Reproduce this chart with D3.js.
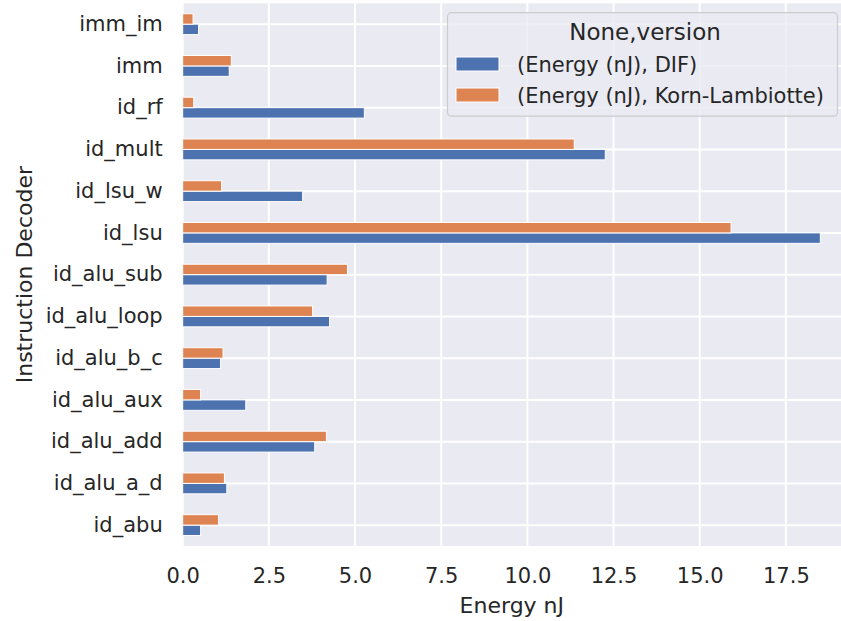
<!DOCTYPE html>
<html><head><meta charset="utf-8">
<script src="https://cdn.jsdelivr.net/npm/d3@7"></script>
<style>body{margin:0;background:#fff}svg{display:block}text{font-family:"DejaVu Sans",sans-serif;fill:#262626}</style>
</head><body>
<script>
const categories = ["id_abu","id_alu_a_d","id_alu_add","id_alu_aux","id_alu_b_c","id_alu_loop","id_alu_sub","id_lsu","id_lsu_w","id_mult","id_rf","imm","imm_im"];
const seriesNames = ["(Energy (nJ), DIF)","(Energy (nJ), Korn-Lambiotte)"];
const difValues = [0.52,1.28,3.83,1.83,1.10,4.26,4.19,18.50,3.48,12.26,5.27,1.35,0.46];
const klValues  = [1.04,1.21,4.17,0.52,1.17,3.77,4.78,15.91,1.13,11.36,0.32,1.41,0.30];
const xTicks = [0,2.5,5,7.5,10,12.5,15,17.5];
const colors = ["#4c72b0","#dd8452"];
const legendTitle = "None,version";
const xLabel = "Energy nJ";
const yLabel = "Instruction Decoder";

const W=841,H=621;
const L=182.7,R=841,T=3.3,B=546;
const svg=d3.select("body").append("svg").attr("width",W).attr("height",H);
const x=d3.scaleLinear().domain([0,19.1]).range([L,R]);
const y=d3.scaleBand().domain(categories.slice().reverse()).range([T,B]).paddingInner(0).paddingOuter(0);
const bw=y.bandwidth();

svg.append("rect").attr("x",L).attr("y",T).attr("width",R-L).attr("height",B-T).attr("fill","#eaeaf2");
// grid
svg.append("g").selectAll("line").data(xTicks).join("line")
  .attr("x1",d=>x(d)).attr("x2",d=>x(d)).attr("y1",T).attr("y2",B).attr("stroke","#fff").attr("stroke-width",2);
svg.append("g").selectAll("line").data(categories).join("line")
  .attr("x1",L).attr("x2",R).attr("y1",d=>y(d)+bw/2).attr("y2",d=>y(d)+bw/2).attr("stroke","#fff").attr("stroke-width",2);

// bars
const series=[difValues,klValues];
const barH=bw*0.25;
series.forEach((vals,si)=>{
  svg.append("g").selectAll("rect").data(categories).join("rect")
    .attr("x",x(0))
    .attr("y",(d)=>y(d)+bw/2 + (si===0?0:-barH))
    .attr("width",(d,i)=>x(vals[i])-x(0))
    .attr("height",barH)
    .attr("fill",colors[si]).attr("stroke","#fff").attr("stroke-width",1);
});

// x axis ticks
const xa=svg.append("g").attr("transform",`translate(0,${B})`)
  .call(d3.axisBottom(x).tickValues(xTicks).tickFormat(d3.format(".1f")).tickSize(0).tickPadding(22));
xa.select(".domain").remove();
xa.selectAll("text").attr("font-size",21).style("fill","#262626").style("font-family","DejaVu Sans");
const ya=svg.append("g").attr("transform",`translate(${L},0)`)
  .call(d3.axisLeft(y).tickSize(0).tickPadding(20));
ya.select(".domain").remove();
ya.selectAll("text").attr("font-size",21).style("fill","#262626").style("font-family","DejaVu Sans");

svg.append("text").attr("x",(L+R)/2).attr("y",613).attr("text-anchor","middle").attr("font-size",22).text(xLabel);
svg.append("text").attr("transform",`translate(32,${(T+B)/2}) rotate(-90)`).attr("text-anchor","middle").attr("font-size",22).text(yLabel);

// legend
const lg=svg.append("g");
lg.append("rect").attr("x",447.5).attr("y",12.7).attr("width",390).attr("height",103.5).attr("rx",4)
  .attr("fill","#eaeaf2").attr("fill-opacity",0.8).attr("stroke","#cccccc").attr("stroke-width",1.2);
lg.append("text").attr("x",645).attr("y",40).attr("text-anchor","middle").attr("font-size",23).text(legendTitle);
seriesNames.forEach((n,i)=>{
  const cy=64+i*31;
  lg.append("rect").attr("x",456).attr("y",cy-7).attr("width",43).attr("height",14).attr("fill",colors[i]).attr("stroke","#fff").attr("stroke-width",1);
  lg.append("text").attr("x",517).attr("y",cy+7.5).attr("font-size",21).text(n);
});
</script>
</body></html>
